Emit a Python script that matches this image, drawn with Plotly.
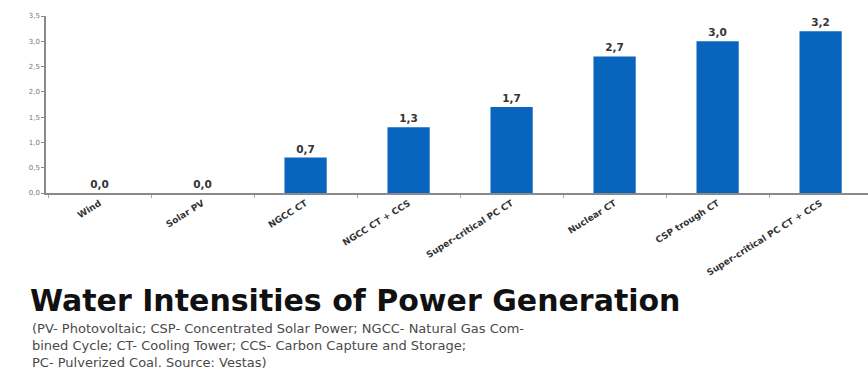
import plotly.graph_objects as go

categories = ["Wind", "Solar PV", "NGCC CT", "NGCC CT + CCS", "Super-critical PC CT",
              "Nuclear CT", "CSP trough CT", "Super-critical PC CT + CCS"]
values = [0.0, 0.0, 0.7, 1.3, 1.7, 2.7, 3.0, 3.2]
y_ticks = [0.0, 0.5, 1.0, 1.5, 2.0, 2.5, 3.0, 3.5]

title_text = "Water Intensities of Power Generation"
subtitle_lines = ["(PV- Photovoltaic; CSP- Concentrated Solar Power; NGCC- Natural Gas Com-",
                  "bined Cycle; CT- Cooling Tower; CCS- Carbon Capture and Storage;",
                  "PC- Pulverized Coal. Source: Vestas)"]

PLOT_TOP, PLOT_BOTTOM = 16, 193
def py(pixel_y):
    return (PLOT_BOTTOM - pixel_y) / (PLOT_BOTTOM - PLOT_TOP)

fig = go.Figure()
fig.add_trace(go.Bar(
    x=categories, y=values,
    marker=dict(color="#0864bd", line=dict(width=0)),
    width=0.41,
    texttemplate="%{y:.1f}",
    textposition="outside",
    textfont=dict(family="DejaVu Sans", size=10.5, color="#333333", weight="bold"),
    cliponaxis=False,
))

annotations = [
    dict(text="<b>" + title_text + "</b>", xref="paper", yref="paper",
         x=-0.022, y=py(300), xanchor="left", yanchor="middle", showarrow=False,
         font=dict(family="DejaVu Sans", size=30, color="#111111")),
    dict(text="<br>".join(subtitle_lines), xref="paper", yref="paper", align="left",
         x=-0.02, y=py(345), xanchor="left", yanchor="middle", showarrow=False,
         font=dict(family="DejaVu Sans", size=13, color="#4a4a4a")),
]

fig.update_layout(
    width=868, height=370,
    margin=dict(l=46, r=0, t=PLOT_TOP, b=370 - PLOT_BOTTOM),
    paper_bgcolor="white", plot_bgcolor="white",
    separators=",.",
    showlegend=False,
    font=dict(family="DejaVu Sans", color="#333333"),
    xaxis=dict(
        range=[-0.52, 7.46],
        tickangle=-32,
        tickfont=dict(family="DejaVu Sans", size=9, color="#333333", weight="bold"),
        showline=True, linecolor="#8a8a8a", linewidth=1.5,
        ticks="outside", tickson="boundaries", ticklen=3, tickcolor="#aaaaaa",
        showgrid=False,
    ),
    yaxis=dict(
        range=[0, 3.5],
        tickvals=y_ticks,
        tickformat=".1f",
        tickfont=dict(family="DejaVu Sans", size=7, color="#777777"),
        showline=True, linecolor="#8a8a8a", linewidth=1.5,
        ticks="outside", ticklen=3, tickcolor="#8a8a8a",
        showgrid=False, zeroline=False,
    ),
    annotations=annotations,
)

fig.write_html("out.html")
